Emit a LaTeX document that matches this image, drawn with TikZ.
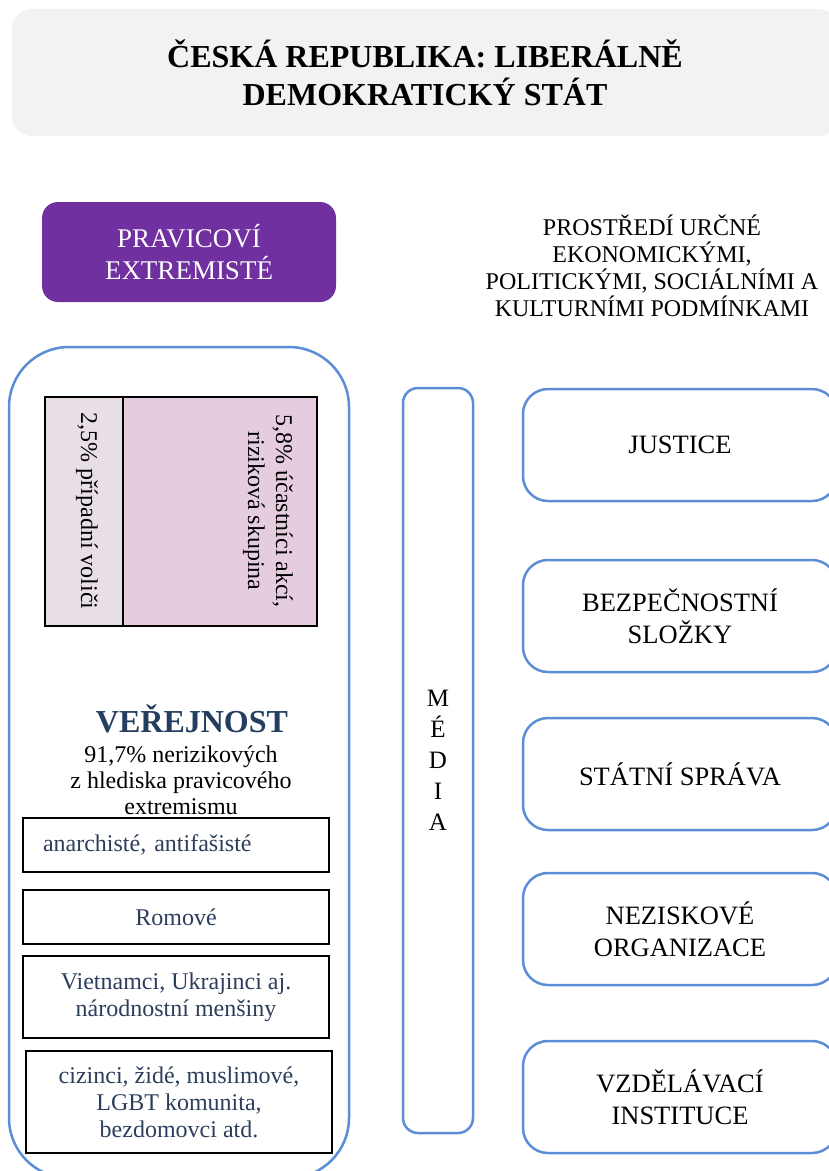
\documentclass[tikz,border=0pt]{standalone}
\usepackage{fontspec}
\setmainfont{Liberation Serif}
\definecolor{titlegray}{HTML}{F2F2F2}
\definecolor{extremepurple}{HTML}{7030A0}
\definecolor{frameblue}{RGB}{91,142,214}
\definecolor{voterpink}{HTML}{E8DEE5}
\definecolor{riskpink}{HTML}{E5CDDF}
\definecolor{groupblue}{HTML}{2C3E5C}
\definecolor{headblue}{HTML}{243E60}
\begin{document}
\begin{tikzpicture}[x=1pt,y=-1pt,
    every node/.style={inner sep=0pt,align=center},
    frame/.style={draw=frameblue,line width=2.5pt},
    cell/.style={draw=black,line width=1.3pt,minimum height=229pt},
    group/.style={draw=black,line width=1.3pt,minimum width=306pt,text=groupblue,font=\fontsize{24}{27}\selectfont},
    institution/.style={frame,rounded corners=25pt,minimum width=314pt,minimum height=112pt,font=\fontsize{26.5}{32}\selectfont}]
  \useasboundingbox (0,0) rectangle (829,1171);
  \clip (0,0) rectangle (829,1171);
  \node[fill=titlegray,rounded corners=20pt,minimum width=826pt,minimum height=127pt,font=\bfseries\fontsize{32}{38}\selectfont] (title) at (425,72.5) {ČESKÁ REPUBLIKA: LIBERÁLNĚ\\DEMOKRATICKÝ STÁT};
  \node[fill=extremepurple,rounded corners=16pt,minimum width=294pt,minimum height=100pt,text=white,font=\fontsize{27}{32}\selectfont] (extremists) at (189,252) {PRAVICOVÍ\\EXTREMISTÉ};
  \node[font=\fontsize{24}{27}\selectfont] (environment) at (652,266) {PROSTŘEDÍ URČNÉ\\EKONOMICKÝMI,\\POLITICKÝMI, SOCIÁLNÍMI A\\KULTURNÍMI PODMÍNKAMI};
  \node[frame,rounded corners=60pt,minimum width=340pt,minimum height=831pt] (public) at (179,762.5) {};
  \node[cell,fill=voterpink,minimum width=78pt] (voters) at (84,511.5) {};
  \node[cell,fill=riskpink,minimum width=194pt] (risk) at (220,511.5) {};
  \node[rotate=-90,font=\fontsize{24}{28}\selectfont] (voterslabel) at (87,511) {2,5\% případní voliči};
  \node[rotate=-90,font=\fontsize{24}{28}\selectfont] (risklabel) at (268,511) {5,8\% účastníci akcí,\\riziková skupina};
  \node[anchor=base,text=headblue,font=\bfseries\fontsize{32}{36}\selectfont] (publichead) at (192,732) {VEŘEJNOST};
  \node[font=\fontsize{24}{26}\selectfont] (publictext) at (181,780) {91,7\% nerizikových\\z hlediska pravicového\\extremismu};
  \node[group,minimum height=54pt,text width=266pt,inner xsep=20pt,align=left] (anarchists) at (176,845) {anarchisté, antifašisté};
  \node[group,minimum height=54pt] (roma) at (176,917) {Romové};
  \node[group,minimum height=82pt] (minorities) at (176,997) {Vietnamci, Ukrajinci aj.\\národnostní menšiny};
  \node[group,minimum height=102pt] (others) at (179,1102) {cizinci, židé, muslimové,\\LGBT komunita,\\bezdomovci atd.};
  \node[frame,rounded corners=15pt,minimum width=70pt,minimum height=745pt,font=\fontsize{25}{31}\selectfont] (media) at (438,760.5) {M\\É\\D\\I\\A};
  \node[institution] (justice) at (680,445) {JUSTICE};
  \node[institution] (security) at (680,616) {BEZPEČNOSTNÍ\\SLOŽKY};
  \node[institution] (administration) at (680,774) {STÁTNÍ SPRÁVA};
  \node[institution] (ngos) at (680,929) {NEZISKOVÉ\\ORGANIZACE};
  \node[institution] (education) at (680,1097) {VZDĚLÁVACÍ\\INSTITUCE};
\end{tikzpicture}
\end{document}
